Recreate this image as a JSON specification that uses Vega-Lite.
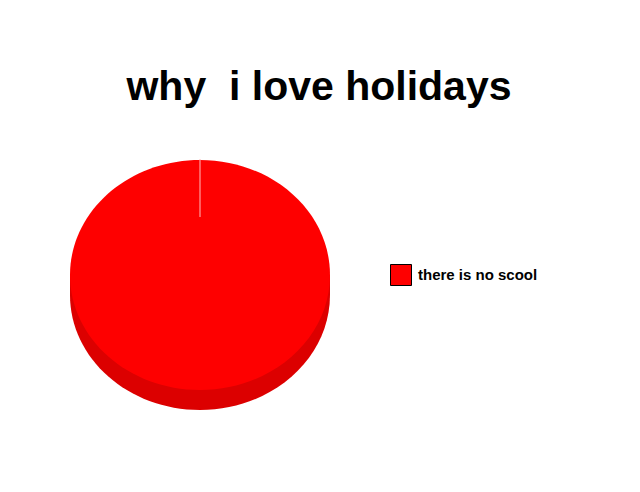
{
  "$schema": "https://vega.github.io/schema/vega-lite/v6.json",
  "width": 400,
  "height": 270,
  "autosize": "none",
  "padding": {"left": 0, "top": 140, "right": 240, "bottom": 82},
  "background": "white",
  "title": {
    "text": "why \u00a0i love holidays",
    "font": "Impact, 'Liberation Sans', Arial, sans-serif",
    "fontSize": 41,
    "fontWeight": "bold",
    "color": "black",
    "anchor": "middle",
    "frame": "group",
    "baseline": "alphabetic",
    "offset": 40,
    "dx": 119,
    "dy": 41
  },
  "data": {"values": [{"reason": "there is no scool", "share": 100}]},
  "config": {"view": {"stroke": null}},
  "layer": [
    {
      "mark": {
        "type": "point",
        "shape": "M -1 0 L 1 0 L 1 0.1538 A 1 0.8846 0 0 1 -1 0.1538 Z",
        "filled": true,
        "size": 67600,
        "opacity": 1,
        "strokeWidth": 0,
        "color": "#dc0000"
      },
      "encoding": {"tooltip": {"field": "share", "type": "quantitative"}}
    },
    {
      "mark": {
        "type": "point",
        "shape": "M -1 0 A 1 0.8846 0 0 1 1 0 A 1 0.8846 0 0 1 -1 0 Z",
        "filled": true,
        "size": 67600,
        "opacity": 1,
        "strokeWidth": 0
      },
      "encoding": {
        "color": {
          "field": "reason",
          "type": "nominal",
          "scale": {"range": ["#fe0000"]},
          "legend": {
            "orient": "none",
            "legendX": 390,
            "legendY": 124,
            "title": null,
            "padding": 0,
            "symbolType": "square",
            "symbolSize": 441,
            "symbolStrokeColor": "black",
            "symbolStrokeWidth": 1,
            "symbolOpacity": 1,
            "labelOffset": 6,
            "labelFont": "Impact, 'Liberation Sans', Arial, sans-serif",
            "labelFontSize": 15,
            "labelFontWeight": "bold",
            "labelColor": "black",
            "encode": {
              "symbols": {
                "update": {
                  "fill": {"value": "#dd0000"},
                  "stroke": {"value": "black"},
                  "strokeWidth": {"value": 1}
                }
              }
            }
          }
        },
        "tooltip": {"field": "share", "type": "quantitative"}
      }
    },
    {
      "mark": {
        "type": "point",
        "shape": "M -0.004 -0.892 L 0.004 -0.892 L 0.004 -0.446 L -0.004 -0.446 Z",
        "filled": true,
        "size": 67600,
        "opacity": 1,
        "strokeWidth": 0,
        "color": "#ffb4b4"
      },
      "encoding": {}
    }
  ]
}
